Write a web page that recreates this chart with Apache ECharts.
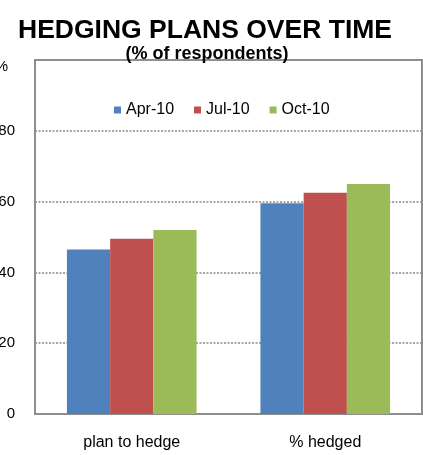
<!DOCTYPE html>
<html>
<head>
<meta charset="utf-8">
<script src="https://cdn.jsdelivr.net/npm/echarts@6/dist/echarts.min.js"></script>
<style>
  html, body { margin: 0; padding: 0; background: #fff; }
  #chart { width: 423px; height: 455px; }
</style>
</head>
<body>
<div id="chart"></div>
<script>
// Survey categories and the three survey waves
const categories = ['plan to hedge', '% hedged'];
const apr10 = [46.5, 59.5];
const jul10 = [49.5, 62.5];
const oct10 = [52.0, 65.0];
const seriesNames = ['Apr-10', 'Jul-10', 'Oct-10'];
const seriesColors = ['#4F81BD', '#C0504D', '#9BBB59'];

const font = 'Liberation Sans, Arial, sans-serif';
const chart = echarts.init(document.getElementById('chart'), null, { renderer: 'canvas' });

function bar(name, data, color) {
  return {
    name: name,
    type: 'bar',
    data: data,
    barGap: '0%',
    barCategoryGap: '33%',
    itemStyle: { color: color }
  };
}

chart.setOption({
  animation: false,
  backgroundColor: '#ffffff',
  title: [
    {
      text: 'HEDGING PLANS OVER TIME',
      left: 200, top: 12, textAlign: 'center',
      textStyle: { fontFamily: font, fontSize: 26.5, fontWeight: 'bold', color: '#000' }
    },
    {
      text: '(% of respondents)',
      left: 202, top: 40, textAlign: 'center',
      textStyle: { fontFamily: font, fontSize: 18, fontWeight: 'bold', color: '#000' }
    }
  ],
  legend: {
    data: seriesNames,
    left: 109, top: 97,
    icon: 'rect', itemWidth: 7, itemHeight: 7, itemGap: 20,
    textStyle: { fontFamily: font, fontSize: 16, color: '#000', padding: [0, 0, 0, 0] }
  },
  grid: {
    left: 35, right: 1, top: 60, bottom: 41,
    outerBoundsMode: 'none',
    containLabel: false,
    show: true, borderColor: '#8e8e8e', borderWidth: 2
  },
  xAxis: {
    type: 'category',
    data: categories,
    axisLine: { lineStyle: { color: '#8e8e8e', width: 2 } },
    axisTick: { show: false },
    axisLabel: { fontFamily: font, fontSize: 16, color: '#000', margin: 21 }
  },
  yAxis: {
    type: 'value',
    min: 0, max: 100, interval: 20,
    name: '%',
    nameLocation: 'end',
    nameGap: -14,
    nameTextStyle: { fontFamily: font, fontSize: 15, color: '#000', align: 'right', padding: [0, 27, 0, 0] },
    axisLine: { show: true, lineStyle: { color: '#8e8e8e', width: 2 } },
    axisTick: { show: false },
    axisLabel: {
      fontFamily: font, fontSize: 15, color: '#000', margin: 20,
      formatter: v => (v === 100 ? '' : String(v))
    },
    splitLine: {
      show: true, showMaxLine: false, showMinLine: false,
      lineStyle: { color: '#8a8a8a', type: [2, 1.5], width: 1.5 }
    }
  },
  series: [
    bar(seriesNames[0], apr10, seriesColors[0]),
    bar(seriesNames[1], jul10, seriesColors[1]),
    bar(seriesNames[2], oct10, seriesColors[2])
  ]
});
</script>
</body>
</html>
